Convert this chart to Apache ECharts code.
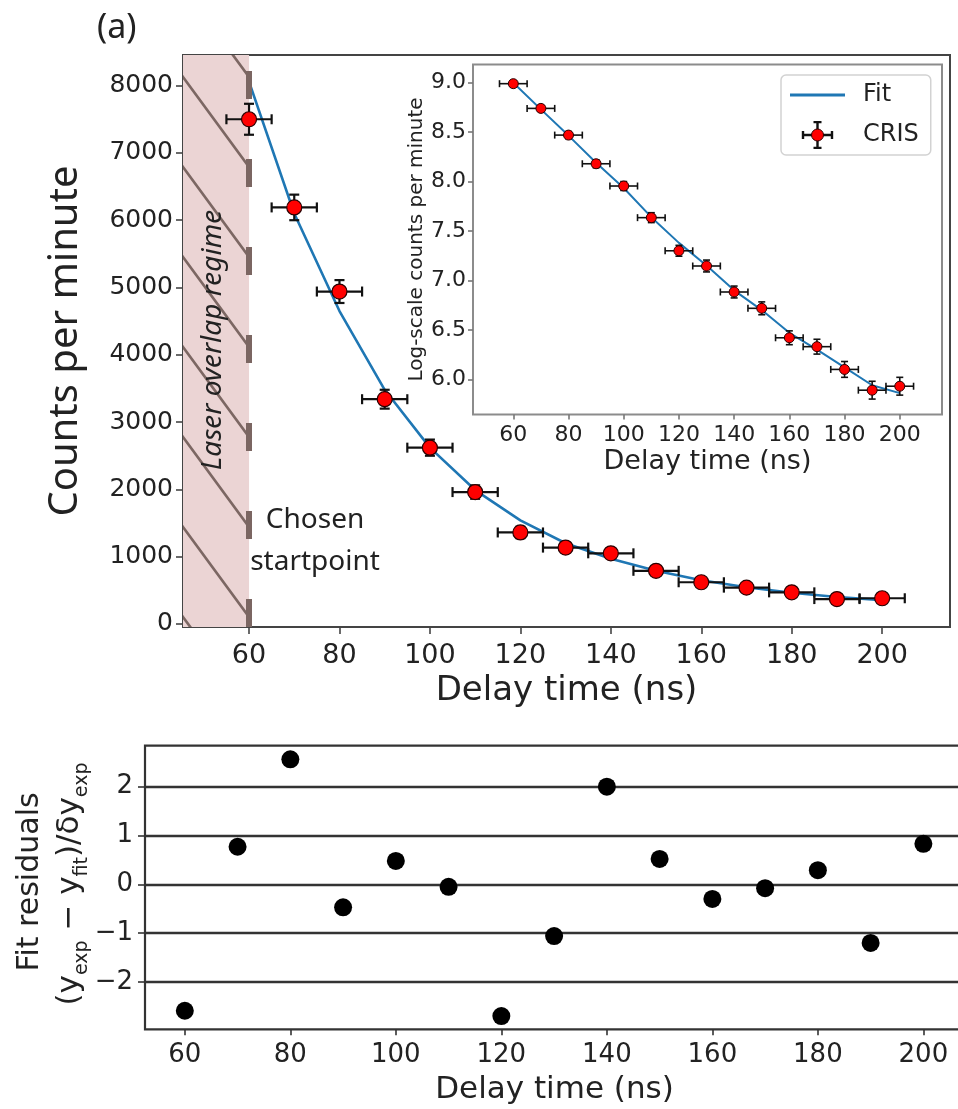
<!DOCTYPE html>
<html><head><meta charset="utf-8">
<script src="https://cdn.jsdelivr.net/npm/echarts@6/dist/echarts.min.js"></script>
<style>html,body{margin:0;padding:0;background:#fff}#c{width:958px;height:1109px}</style>
</head><body><div id="c"></div>
<script>
// ---- data ----
const delay      = [60,70,80,90,100,110,120,130,140,150,160,170,180,190,200];
const delayErr   = [5,5,5,5,5,5,5,5,5,5,5,5,5,5,5];
const counts     = [7500,6190,4940,3340,2620,1960,1360,1135,1050,790,620,540,470,370,382];
const countsErr  = [230,190,170,140,120,100,85,75,70,60,50,45,45,40,40];
const countsFit  = [8060,6100,4650,3480,2620,1990,1540,1200,970,790,650,545,465,400,355];
const logCounts    = [8.99,8.74,8.47,8.18,7.955,7.635,7.30,7.146,6.883,6.718,6.42,6.33,6.10,5.89,5.93];
const logCountsErr = [0.03,0.03,0.035,0.04,0.045,0.05,0.055,0.06,0.06,0.065,0.07,0.075,0.08,0.09,0.09];
const logFit       = [9.0,8.73,8.465,8.19,7.935,7.64,7.38,7.15,6.90,6.70,6.47,6.30,6.12,5.94,5.86];
const residuals  = [-2.59,0.77,2.56,-0.47,0.48,-0.05,-2.70,-1.06,2.0,0.52,-0.30,-0.08,0.29,-1.20,0.83];
const delayTicks  = [60,80,100,120,140,160,180,200];
const countTicks  = [0,1000,2000,3000,4000,5000,6000,7000,8000];
const logTicks    = [6.0,6.5,7.0,7.5,8.0,8.5,9.0];
const residTicks  = [-2,-1,0,1,2];
const startPoint  = 60;

// ---- helpers ----
function makeCanvas(w,h,draw){const c=document.createElement('canvas');c.width=w;c.height=h;draw(c.getContext('2d'));return c;}
const hatchTile = makeCanvas(66,90,g=>{
  g.fillStyle='#ebd4d4';g.fillRect(0,0,66,90);
  g.strokeStyle='#7c6763';g.lineWidth=2.6;g.beginPath();
  for(const dy of [-90,0,90]){g.moveTo(-3,dy-3*90/66);g.lineTo(69,dy+90+3*90/66);}
  g.stroke();
});
const fitIcon = makeCanvas(55,28,g=>{g.strokeStyle='#1f77b4';g.lineWidth=3;g.beginPath();g.moveTo(0,14);g.lineTo(55,14);g.stroke();}).toDataURL();
const crisIcon = makeCanvas(55,28,g=>{
  g.strokeStyle='#111';g.lineWidth=2.4;g.beginPath();
  g.moveTo(13,14);g.lineTo(42,14);g.moveTo(13,10);g.lineTo(13,18);g.moveTo(42,10);g.lineTo(42,18);
  g.moveTo(27.5,1);g.lineTo(27.5,27);g.moveTo(23.5,1);g.lineTo(31.5,1);g.moveTo(23.5,27);g.lineTo(31.5,27);
  g.stroke();
  g.beginPath();g.arc(27.5,14,6,0,Math.PI*2);g.fillStyle='#ff0000';g.fill();g.lineWidth=1;g.strokeStyle='#300';g.stroke();
}).toDataURL();

function errRender(cap,lw){
  return function(params,api){
    const x=api.value(0),y=api.value(1),xe=api.value(2),ye=api.value(3);
    const l=api.coord([x-xe,y]),r=api.coord([x+xe,y]),b=api.coord([x,y-ye]),t=api.coord([x,y+ye]);
    const st={stroke:'#111',lineWidth:lw};
    const seg=(x1,y1,x2,y2)=>({type:'line',shape:{x1,y1,x2,y2},style:st});
    return {type:'group',children:[
      seg(l[0],l[1],r[0],r[1]),seg(l[0],l[1]-cap,l[0],l[1]+cap),seg(r[0],r[1]-cap,r[0],r[1]+cap),
      seg(b[0],b[1],t[0],t[1]),seg(b[0]-cap,b[1],b[0]+cap,b[1]),seg(t[0]-cap,t[1],t[0]+cap,t[1])]};
  };
}
const txt='#222';
const minus=v=>String(v).replace('-','\u2212');
function axisCommon(ticks,fs,family,margin,tickLen,tickColor,fmt){
  return {
    axisLine:{show:false,onZero:false},
    splitLine:{show:false},
    axisTick:{show:true,inside:false,length:tickLen,customValues:ticks,lineStyle:{color:tickColor,width:1.6}},
    axisLabel:{show:true,customValues:ticks,fontSize:fs,fontFamily:family,color:txt,margin:margin,formatter:fmt||minus}
  };
}

const mainXMin=45.4, mainXMax=215, mainYMin=-45, mainYMax=8455;

const option={
  animation:false,
  backgroundColor:'#fff',
  title:{text:'(a)',left:92,top:6,textStyle:{fontSize:34,fontFamily:'Noto Sans',fontWeight:'normal',color:txt}},
  legend:{
    show:true,orient:'vertical',left:781,top:75,selectedMode:false,z:20,zlevel:0,
    data:[{name:'Fit',icon:'image://'+fitIcon},{name:'CRIS',icon:'image://'+crisIcon}],
    itemWidth:55,itemHeight:28,itemGap:12,padding:[6,12,6,9],
    borderColor:'#d2d2d2',borderWidth:1.5,borderRadius:5,backgroundColor:'rgba(255,255,255,0.9)',
    textStyle:{fontSize:24,fontFamily:'DejaVu Sans',color:txt,padding:[0,0,0,13]}
  },
  grid:[
    {left:183,top:55,right:8,bottom:482,show:true,borderColor:'#444',borderWidth:2,backgroundColor:'transparent',outerBoundsMode:'none'},
    {left:473,top:64.5,right:16,bottom:694.5,show:true,borderColor:'#8c8c8c',borderWidth:2,backgroundColor:'#fff',z:5,outerBoundsMode:'none'},
    {left:145,top:745.7,width:819,bottom:79.7,show:true,borderColor:'#333',borderWidth:2.2,outerBoundsMode:'none'}
  ],
  xAxis:[
    Object.assign({type:'value',gridIndex:0,min:mainXMin,max:mainXMax,name:'Delay time (ns)',nameLocation:'middle',nameGap:46,
      nameTextStyle:{fontSize:34,fontFamily:'DejaVu Sans',color:txt}},axisCommon(delayTicks,27,'DejaVu Sans',15,7,'#444')),
    Object.assign({type:'value',gridIndex:1,min:45.4,max:215.3,name:'Delay time (ns)',nameLocation:'middle',nameGap:34,z:6,
      nameTextStyle:{fontSize:27,fontFamily:'DejaVu Sans',color:txt}},axisCommon(delayTicks,22,'DejaVu Sans',10,5,'#777')),
    Object.assign({type:'value',gridIndex:2,min:52.45,max:207.7,name:'Delay time (ns)',nameLocation:'middle',nameGap:45,
      nameTextStyle:{fontSize:31,fontFamily:'DejaVu Sans',color:txt}},axisCommon(delayTicks,26,'DejaVu Sans',13,6,'#333'))
  ],
  yAxis:[
    Object.assign({type:'value',gridIndex:0,min:mainYMin,max:mainYMax,name:'Counts per minute',nameLocation:'middle',nameGap:97,
      nameTextStyle:{fontSize:40,fontFamily:'Noto Sans',color:txt}},axisCommon(countTicks,25,'DejaVu Sans',10,7,'#444')),
    Object.assign({type:'value',gridIndex:1,min:5.644,max:9.184,name:'Log-scale counts per minute',nameLocation:'middle',nameGap:44,z:6,
      nameTextStyle:{fontSize:20,fontFamily:'DejaVu Sans',color:txt}},axisCommon(logTicks,22,'DejaVu Sans',7,5,'#777',v=>v.toFixed(1))),
    Object.assign({type:'value',gridIndex:2,min:-2.97,max:2.84},axisCommon(residTicks,26,'DejaVu Sans',12,7,'#333'))
  ],
  series:[
    // main panel
    {type:'line',name:'Fit (counts)',xAxisIndex:0,yAxisIndex:0,showSymbol:false,z:2,
      lineStyle:{color:'#1f77b4',width:2.6},
      data:delay.map((t,i)=>[t,countsFit[i]]),
      markArea:{silent:true,z:1,itemStyle:{color:{image:hatchTile,repeat:'repeat',x:183,y:77}},
        data:[[{xAxis:mainXMin},{xAxis:startPoint}]]},
      markLine:{silent:true,symbol:'none',label:{show:false},z:3,
        lineStyle:{color:'#7b6662',width:6,type:[28,60],dashOffset:0},
        data:[[{coord:[startPoint,mainYMin]},{coord:[startPoint,mainYMax]}]]}
    },
    {type:'custom',name:'CRIS err (counts)',xAxisIndex:0,yAxisIndex:0,z:3,renderItem:errRender(5,2.2),
      encode:{x:0,y:1},data:delay.map((t,i)=>[t,counts[i],delayErr[i],countsErr[i]])},
    {type:'scatter',name:'CRIS (counts)',xAxisIndex:0,yAxisIndex:0,z:4,symbolSize:15,
      itemStyle:{color:'#ff0000',borderColor:'#2a0000',borderWidth:1.2,opacity:1},
      data:delay.map((t,i)=>[t,counts[i]])},
    // inset
    {type:'line',name:'Fit',xAxisIndex:1,yAxisIndex:1,showSymbol:false,z:6,
      lineStyle:{color:'#1f77b4',width:2},itemStyle:{color:'#1f77b4'},
      data:delay.map((t,i)=>[t,logFit[i]])},
    {type:'custom',name:'CRIS err (log)',xAxisIndex:1,yAxisIndex:1,z:7,renderItem:errRender(3.5,1.6),
      encode:{x:0,y:1},data:delay.map((t,i)=>[t,logCounts[i],delayErr[i],logCountsErr[i]])},
    {type:'scatter',name:'CRIS',xAxisIndex:1,yAxisIndex:1,z:8,symbolSize:10,
      itemStyle:{color:'#ff0000',borderColor:'#2a0000',borderWidth:1,opacity:1},
      data:delay.map((t,i)=>[t,logCounts[i]])},
    // residuals
    {type:'scatter',name:'Residuals',xAxisIndex:2,yAxisIndex:2,z:4,symbolSize:18,
      itemStyle:{color:'#000',opacity:1},
      data:delay.map((t,i)=>[t,residuals[i]]),
      markLine:{silent:true,symbol:'none',label:{show:false},z:2,
        lineStyle:{color:'#333',width:2.4,type:'solid'},
        data:residTicks.map(v=>({yAxis:v}))}
    }
  ],
  graphic:[
    {type:'text',x:213,y:340,rotation:Math.PI/2,z:100,
      style:{text:'Laser overlap regime',fontSize:28,fontStyle:'italic',fontFamily:'Noto Sans',fill:txt,align:'center',verticalAlign:'middle'}},
    {type:'text',x:315,y:541,z:100,
      style:{text:'Chosen\nstartpoint',fontSize:28,fontFamily:'Noto Sans',fill:txt,align:'center',verticalAlign:'middle',lineHeight:42}},
    {type:'text',x:30,y:882,rotation:Math.PI/2,z:100,
      style:{text:'Fit residuals',fontSize:30,fontFamily:'DejaVu Sans',fill:txt,align:'center',verticalAlign:'middle'}},
    {type:'text',x:70,y:884,rotation:Math.PI/2,z:100,
      style:{text:'{m|(y}{s|exp}{m| \u2212 y}{s|fit}{m|)/δy}{s|exp}',align:'center',verticalAlign:'middle',fill:txt,
        rich:{m:{fontSize:31,fontFamily:'DejaVu Sans',fill:txt,lineHeight:44,verticalAlign:'middle'},
              s:{fontSize:19,fontFamily:'DejaVu Sans',fill:txt,lineHeight:14,verticalAlign:'bottom'}}}}
  ]
};
const chart=echarts.init(document.getElementById('c'),null,{renderer:'canvas'});
chart.setOption(option);
</script>
</body></html>
